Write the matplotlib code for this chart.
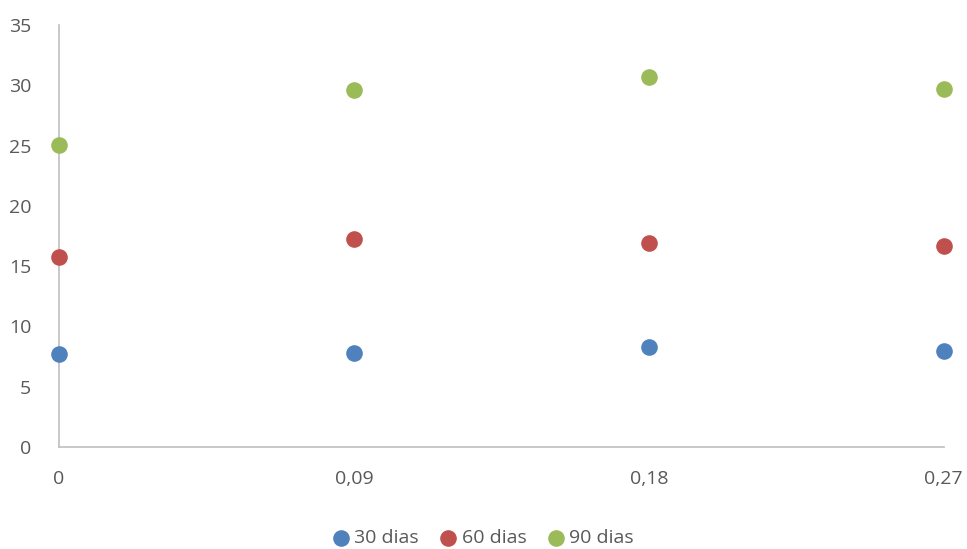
import matplotlib.pyplot as plt

# data
x_vals = [0, 0.09, 0.18, 0.27]
x_labels = ['0', '0,09', '0,18', '0,27']
dias_30 = [7.7, 7.8, 8.3, 8.0]
dias_60 = [15.75, 17.25, 16.9, 16.7]
dias_90 = [25.1, 29.6, 30.7, 29.7]
series = [('30 dias', dias_30, '#4F81BD'),
          ('60 dias', dias_60, '#C0504D'),
          ('90 dias', dias_90, '#9BBB59')]

plt.rcParams['font.family'] = ['Open Sans', 'DejaVu Sans']
TEXT_COLOR = '#595959'

fig = plt.figure(figsize=(9.67, 5.49), dpi=100)
ax = fig.add_axes([0.061, 0.186, 0.915, 0.768])

for name, vals, color in series:
    ax.scatter(x_vals, vals, s=120, color=color, label=name, zorder=3, clip_on=False)

ax.set_xlim(0, 0.27)
ax.set_ylim(0, 35)
ax.set_xticks(x_vals)
ax.set_xticklabels(x_labels)
ax.set_yticks(range(0, 36, 5))
ax.tick_params(length=0, labelsize=14, colors=TEXT_COLOR)
ax.tick_params(axis='x', pad=17)
ax.tick_params(axis='y', pad=20)

for side in ['top', 'right']:
    ax.spines[side].set_visible(False)
for side in ['left', 'bottom']:
    ax.spines[side].set_color('#BFBFBF')
    ax.spines[side].set_linewidth(1.2)

leg = fig.legend(loc='lower center', bbox_to_anchor=(0.5, -0.028), ncol=3, frameon=False,
                 fontsize=14, handlelength=0.8, handletextpad=0.3, columnspacing=1.1)
for t in leg.get_texts():
    t.set_color(TEXT_COLOR)

fig.savefig('out.png', dpi=100)
